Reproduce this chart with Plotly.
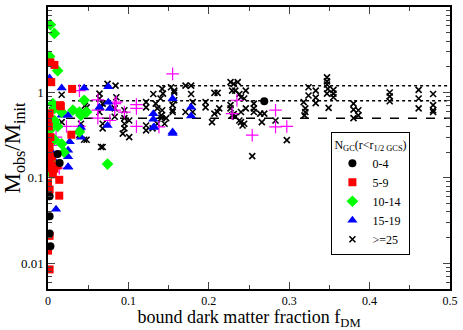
import plotly.graph_objects as go

# N_GC 0-4
f_0_4 = [0.002, 0.002, 0.002, 0.003, 0.0145, 0.012, 0.269]
m_0_4 = [0.061, 0.0355, 0.0223, 0.0159, 0.149, 0.19, 0.79]

# N_GC 5-9
f_5_9 = [0.003, 0.008, 0.004, 0.03, 0.016, 0.002, 0.0, 0.001, 0.029, 0.003, 0.0, 0.002, 0.001,
         0.005, 0.002, 0.004, 0.002, 0.008, 0.014, 0.0, 0.002, 0.014, 0.002, 0.0, 0.002, 0.012,
         0.006, 0.015]
m_5_9 = [2.25, 2.1, 1.32, 1.10, 0.69, 0.57, 0.5, 0.40, 0.32, 0.30, 0.255, 0.23, 0.20,
         0.177, 0.16, 0.139, 0.13, 0.128, 0.095, 0.087, 0.073, 0.062, 0.021, 0.0141, 0.0085, 0.14,
         0.11, 0.71]

# N_GC 10-14
f_10_14 = [0.003, 0.008, 0.002, 0.012, 0.045, 0.031, 0.039, 0.048, 0.041, 0.017, 0.008, 0.006,
           0.002, 0.008, 0.017, 0.006, 0.002, 0.039, 0.008, 0.004, 0.074, 0.012, 0.02]
m_10_14 = [6.2, 4.9, 2.64, 1.8, 0.81, 0.62, 0.59, 0.59, 0.54, 0.59, 0.65, 0.74,
           0.36, 0.28, 0.25, 0.148, 0.185, 0.345, 0.47, 0.113, 0.145, 0.40, 0.2]

# N_GC 15-19
f_15_19 = [0.002, 0.017, 0.045, 0.075, 0.075, 0.064, 0.077, 0.025, 0.017, 0.012, 0.041, 0.041,
           0.027, 0.025, 0.025, 0.025, 0.006, 0.01, 0.025, 0.01, 0.131, 0.131, 0.131, 0.155,
           0.155, 0.178, 0.178, 0.074, 0.132, 0.155, 0.003, 0.005, 0.001]
m_15_19 = [1.48, 1.13, 1.13, 1.17, 0.77, 0.67, 0.65, 0.54, 0.54, 0.41, 0.30, 0.39,
           0.265, 0.21, 0.177, 0.135, 0.28, 0.15, 0.133, 0.043, 0.565, 0.486, 0.39, 0.845,
           0.33, 0.67, 0.53, 0.41, 0.395, 0.345, 0.45, 0.2, 0.33]

# N_GC 20-24 (not in the legend)
f_20_24 = [0.039, 0.062, 0.062, 0.085, 0.083, 0.11, 0.11, 0.11, 0.023, 0.155, 0.083, 0.095,
           0.077, 0.138, 0.235, 0.229, 0.254, 0.283, 0.283, 0.297, 0.01, 0.039, 0.062, 0.006,
           0.004, 0.014]
m_20_24 = [1.05, 0.82, 0.62, 0.77, 0.62, 0.72, 0.65, 0.40, 0.40, 1.65, 0.74, 0.59,
           0.47, 0.395, 0.81, 0.565, 0.316, 0.62, 0.395, 0.40, 0.30, 0.40, 0.50, 0.177,
           0.24, 0.13]

# N_GC >= 25
f_25 = [0.017, 0.005, 0.048, 0.041, 0.041, 0.048, 0.068, 0.074, 0.084, 0.064, 0.064, 0.068,
        0.068, 0.083, 0.083, 0.095, 0.095, 0.095, 0.095, 0.093, 0.101, 0.101, 0.122, 0.122,
        0.122, 0.122, 0.085, 0.066, 0.134, 0.136, 0.141, 0.141, 0.136, 0.13, 0.143, 0.14,
        0.131, 0.142, 0.142, 0.145, 0.147, 0.153, 0.157, 0.157, 0.157, 0.155, 0.155, 0.155,
        0.171, 0.178, 0.178, 0.18, 0.171, 0.18, 0.196, 0.196, 0.207, 0.211, 0.207, 0.213,
        0.211, 0.204, 0.227, 0.231, 0.236, 0.229, 0.233, 0.238, 0.246, 0.24, 0.227, 0.227,
        0.231, 0.233, 0.244, 0.24, 0.238, 0.244, 0.24, 0.242, 0.229, 0.246, 0.256, 0.256,
        0.256, 0.264, 0.269, 0.266, 0.283, 0.297, 0.254, 0.318, 0.32, 0.32, 0.319, 0.324,
        0.324, 0.333, 0.333, 0.333, 0.347, 0.347, 0.347, 0.348, 0.347, 0.349, 0.355, 0.355,
        0.355, 0.38, 0.38, 0.38, 0.386, 0.386, 0.425, 0.425, 0.425, 0.461, 0.461, 0.461,
        0.479, 0.479, 0.479, 0.479, 0.008, 0.046, 0.064, 0.017, 0.039, 0.045, 0.066, 0.068]
m_25 = [0.94, 0.62, 0.67, 0.43, 0.38, 0.28, 0.23, 1.26, 1.2, 0.85, 0.59, 0.43,
        0.38, 0.52, 0.65, 0.62, 0.5, 0.43, 0.38, 0.33, 0.30, 0.47, 0.77, 0.67,
        0.41, 0.36, 0.88, 0.67, 0.74, 0.65, 0.54, 0.50, 0.43, 0.38, 0.97, 0.85,
        0.96, 1.1, 0.62, 0.43, 0.5, 1.15, 1.05, 1.0, 0.81, 0.71, 0.62, 0.59,
        1.2, 1.2, 0.96, 0.77, 0.59, 0.59, 0.77, 0.67, 0.99, 0.99, 0.565, 0.65,
        0.59, 0.45, 1.32, 1.26, 1.32, 1.05, 1.05, 0.96, 1.05, 0.88, 0.71, 0.65,
        0.56, 0.52, 0.85, 0.59, 0.47, 0.43, 0.45, 0.41, 0.54, 0.65, 0.74, 0.65,
        0.59, 0.565, 0.565, 0.45, 0.47, 0.277, 0.18, 0.77, 0.65, 0.59, 0.54, 1.15,
        0.92, 1.05, 0.87, 0.75, 1.5, 1.35, 1.24, 1.1, 0.97, 0.66, 1.07, 0.97,
        0.88, 0.74, 0.63, 0.5, 0.62, 0.54, 1.0, 0.9, 0.79, 1.07, 0.85, 0.65,
        0.96, 0.71, 0.62, 0.59, 0.71, 0.7, 0.97, 0.45, 0.32, 0.28, 0.23, 0.74]

# reference levels
dashed_level = 0.5
dotted_levels = [0.8, 1.2]
dotted_start = 0.03

x_ticks = [0, 0.1, 0.2, 0.3, 0.4, 0.5]
x_labels = ["0", "0.1", "0.2", "0.3", "0.4", "0.5"]
y_ticks = [0.01, 0.1, 1, 10]
y_labels = ["0.01", "0.1", "1", "10"]
y_minor = [k * 10.0 ** e for e in range(-3, 1) for k in range(2, 10)]

fig = go.Figure()

# reference lines
fig.add_trace(go.Scatter(x=[0, 0.5], y=[dashed_level, dashed_level], mode="lines",
                         line=dict(color="black", width=1.5, dash="dash"), showlegend=False,
                         hoverinfo="skip"))
for lv in dotted_levels:
    fig.add_trace(go.Scatter(x=[dotted_start, 0.5], y=[lv, lv], mode="lines",
                             line=dict(color="black", width=1.5, dash="dot"), showlegend=False,
                             hoverinfo="skip"))

fig.add_trace(go.Scatter(x=f_25, y=m_25, mode="markers", name=">=25",
                         marker=dict(symbol="x-thin", size=6, line=dict(color="black", width=1.6))))
fig.add_trace(go.Scatter(x=f_20_24, y=m_20_24, mode="markers", name="20-24", showlegend=False,
                         marker=dict(symbol="cross-thin", size=9, line=dict(color="#ff00ff", width=1.2))))
fig.add_trace(go.Scatter(x=f_15_19, y=m_15_19, mode="markers", name="15-19",
                         marker=dict(symbol="triangle-up", size=9, color="#0000ff")))
fig.add_trace(go.Scatter(x=f_10_14, y=m_10_14, mode="markers", name="10-14",
                         marker=dict(symbol="diamond", size=9, color="#00ff00")))
fig.add_trace(go.Scatter(x=f_5_9, y=m_5_9, mode="markers", name="5-9",
                         marker=dict(symbol="square", size=8, color="#ff0000")))
fig.add_trace(go.Scatter(x=f_0_4, y=m_0_4, mode="markers", name="0-4",
                         marker=dict(symbol="circle", size=8, color="black")))

font = "Liberation Serif"
fig.update_layout(
    width=463, height=330,
    margin=dict(l=48, r=11, t=5, b=41),
    plot_bgcolor="white", paper_bgcolor="white",
    font=dict(family=font, size=13, color="black"),
    legend=dict(x=0.705, y=0.12, xanchor="left", yanchor="bottom",
                bordercolor="black", borderwidth=1, bgcolor="white",
                font=dict(size=12), traceorder="reversed", tracegroupgap=0,
                itemwidth=30,
                title=dict(text="N<sub>GC</sub>(r&lt;r<sub>1/2 GCS</sub>)", font=dict(size=12))),
)
fig.update_xaxes(range=[0, 0.5], tickvals=x_ticks, ticktext=x_labels, tickfont=dict(size=12),
                 ticks="inside", ticklen=7, tickwidth=1, showline=True, linecolor="black",
                 linewidth=1.5, mirror="ticks", showgrid=False, zeroline=False,
                 minor=dict(ticks="inside", ticklen=4, dtick=0.05, showgrid=False),
                 title=dict(text="bound dark matter fraction f<sub>DM</sub>",
                            font=dict(size=18), standoff=4))
fig.update_yaxes(type="log", range=[-2.3, 1.0], tickvals=y_ticks, ticktext=y_labels,
                 ticks="inside", ticklen=7, tickwidth=1, showline=True, linecolor="black",
                 linewidth=1.5, mirror="ticks", showgrid=False, zeroline=False,
                 minor=dict(ticks="inside", ticklen=4, tickvals=y_minor, showgrid=False),
                 title=dict(text="M<sub>obs</sub>/M<sub>init</sub>",
                            font=dict(size=23), standoff=0))

fig.write_html("out.html", config={"displayModeBar": False},
               post_script="document.body.style.margin='0';")
